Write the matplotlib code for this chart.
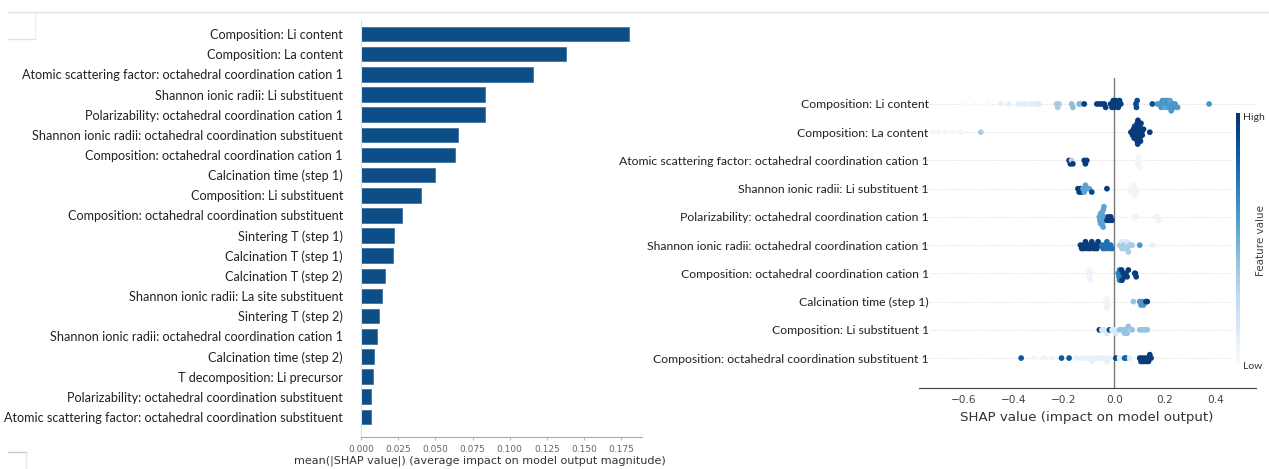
import numpy as np
import matplotlib
matplotlib.use("Agg")
import matplotlib.pyplot as plt
from matplotlib.lines import Line2D
from matplotlib.patches import Rectangle

# mean |SHAP| per feature (bar panel, top to bottom)
bar_features = [
    "Composition: Li content",
    "Composition: La content",
    "Atomic scattering factor: octahedral coordination cation 1",
    "Shannon ionic radii: Li substituent",
    "Polarizability: octahedral coordination cation 1",
    "Shannon ionic radii: octahedral coordination substituent",
    "Composition: octahedral coordination cation 1",
    "Calcination time (step 1)",
    "Composition: Li substituent",
    "Composition: octahedral coordination substituent",
    "Sintering T (step 1)",
    "Calcination T (step 1)",
    "Calcination T (step 2)",
    "Shannon ionic radii: La site substituent",
    "Sintering T (step 2)",
    "Shannon ionic radii: octahedral coordination cation 1",
    "Calcination time (step 2)",
    "T decomposition: Li precursor",
    "Polarizability: octahedral coordination substituent",
    "Atomic scattering factor: octahedral coordination substituent",
]
bar_values = [0.180, 0.138, 0.116, 0.0834, 0.0831, 0.0655, 0.0631, 0.0496,
              0.0402, 0.0276, 0.0221, 0.0213, 0.0161, 0.0139, 0.0122, 0.0108,
              0.0089, 0.0079, 0.0065, 0.0065]
bar_ticks = [0.0, 0.025, 0.05, 0.075, 0.1, 0.125, 0.15, 0.175]

# beeswarm panel: per feature, SHAP values and normalised feature values
swarm_features = [
    "Composition: Li content",
    "Composition: La content",
    "Atomic scattering factor: octahedral coordination cation 1",
    "Shannon ionic radii: Li substituent 1",
    "Polarizability: octahedral coordination cation 1",
    "Shannon ionic radii: octahedral coordination cation 1",
    "Composition: octahedral coordination cation 1",
    "Calcination time (step 1)",
    "Composition: Li substituent 1",
    "Composition: octahedral coordination substituent 1",
]

li_content_shap = [-0.60, -0.55, -0.50, -0.45, -0.42, -0.38, -0.36, -0.35, -0.33, -0.31, -0.30,
                   -0.23, -0.225, -0.22, -0.17, -0.165, -0.14, -0.135, -0.12,
                   -0.07, -0.06, -0.05, -0.04, -0.035,
                   -0.015, -0.01, -0.005, 0.0, 0.0, 0.005, 0.01, 0.015, 0.02, 0.025,
                   0.085, 0.087, 0.09, 0.15,
                   0.17, 0.18, 0.185, 0.19, 0.195, 0.2, 0.2, 0.205, 0.21, 0.21, 0.215,
                   0.22, 0.22, 0.225, 0.23, 0.235, 0.24, 0.25, 0.375]
li_content_fv = [0.0, 0.0, 0.0, 0.08, 0.08, 0.1, 0.1, 0.1, 0.12, 0.12, 0.12,
                 0.35, 0.35, 0.35, 0.42, 0.42, 0.45, 0.45, 0.95,
                 0.95, 0.95, 0.95, 0.95, 0.95,
                 0.95, 0.95, 0.95, 0.95, 0.95, 0.95, 0.95, 0.95, 0.95, 0.95,
                 0.9, 0.9, 0.9, 0.9,
                 0.6, 0.6, 0.6, 0.62, 0.6, 0.55, 0.6, 0.6, 0.55, 0.62, 0.6,
                 0.6, 0.55, 0.6, 0.6, 0.62, 0.6, 0.6, 0.6]

la_content_shap = [-0.72, -0.70, -0.67, -0.64, -0.61, -0.53,
                   0.065, 0.07, 0.072, 0.075, 0.078, 0.08, 0.082, 0.085, 0.085, 0.087,
                   0.088, 0.09, 0.09, 0.092, 0.093, 0.095, 0.095, 0.098, 0.1, 0.1,
                   0.103, 0.105, 0.108, 0.11, 0.115, 0.14]
la_content_fv = [0.03, 0.03, 0.03, 0.03, 0.03, 0.35] + [0.95] * 26

asf_cation_shap = [-0.18, -0.175, -0.17, -0.165, -0.12, -0.115, -0.11,
                   0.09, 0.092, 0.095, 0.095, 0.097, 0.1]
asf_cation_fv = [0.95, 0.95, 0.3, 0.95, 0.95, 0.95, 0.95,
                 0.04, 0.04, 0.04, 0.04, 0.04, 0.04]

sir_li_shap = [-0.145, -0.14, -0.135, -0.13, -0.125, -0.12, -0.115, -0.11, -0.1, -0.09, -0.03,
               0.06, 0.065, 0.07, 0.072, 0.075, 0.08, 0.085, 0.09]
sir_li_fv = [0.95, 0.95, 0.95, 0.95, 0.55, 0.55, 0.55, 0.55, 0.55, 0.9, 0.95,
             0.04, 0.04, 0.04, 0.04, 0.04, 0.04, 0.04, 0.04]

pol_cation_shap = [-0.06, -0.058, -0.055, -0.055, -0.052, -0.05, -0.05, -0.048, -0.045,
                   -0.045, -0.042, -0.04, -0.03, -0.025, -0.02, -0.015, -0.01,
                   0.08, 0.085, 0.165, 0.17, 0.175]
pol_cation_fv = [0.55] * 12 + [0.95] * 5 + [0.06] * 5

sir_cation_shap = [-0.135, -0.13, -0.125, -0.12, -0.115, -0.11, -0.105, -0.1, -0.095, -0.09,
                   -0.085, -0.08, -0.075, -0.07, -0.065, -0.06,
                   -0.05, -0.045, -0.04, -0.035, -0.03, -0.025, -0.02, -0.015, -0.01,
                   0.02, 0.025, 0.03, 0.03, 0.035, 0.04, 0.045, 0.05, 0.05, 0.055, 0.06, 0.07,
                   0.1, 0.15]
sir_cation_fv = [0.95] * 16 + [0.75] * 9 + [0.35, 0.35, 0.35, 0.15, 0.35, 0.35, 0.35,
                                            0.35, 0.15, 0.35, 0.35, 0.35, 0.6, 0.08]

comp_cation_shap = [-0.102, -0.1, -0.1, -0.098, -0.095,
                    0.015, 0.018, 0.02, 0.02, 0.022, 0.025,
                    0.028, 0.03, 0.035, 0.04, 0.045, 0.05, 0.055, 0.08, 0.083, 0.086]
comp_cation_fv = [0.05] * 5 + [0.7] * 6 + [0.95] * 10

calc_time_shap = [-0.035, -0.032, -0.03, -0.03, -0.028, -0.025,
                  0.075, 0.1, 0.105, 0.11, 0.115, 0.125, 0.13]
calc_time_fv = [0.05] * 6 + [0.4, 0.6, 0.6, 0.6, 0.6, 0.95, 0.95]

comp_li_sub_shap = [-0.06, -0.05, -0.04, -0.03, -0.02, -0.01, 0.0, 0.005,
                    0.02, 0.03, 0.035, 0.04, 0.045, 0.05, 0.055, 0.07,
                    0.1, 0.11, 0.12, 0.13]
comp_li_sub_fv = [0.95, 0.15, 0.15, 0.15, 0.9, 0.15, 0.15, 0.15,
                  0.4, 0.4, 0.4, 0.4, 0.4, 0.4, 0.4, 0.4,
                  0.4, 0.4, 0.4, 0.4]

comp_oct_sub_shap = [-0.37, -0.32, -0.28, -0.25, -0.21, -0.18,
                     -0.15, -0.13, -0.11, -0.1, -0.09, -0.08, -0.07, -0.06, -0.05, -0.04,
                     -0.03, -0.02, 0.005, 0.02, 0.04, 0.045, 0.06,
                     0.1, 0.105, 0.11, 0.115, 0.12, 0.125, 0.13, 0.135, 0.14, 0.145]
comp_oct_sub_fv = [0.85, 0.05, 0.05, 0.05, 0.85, 0.85] + [0.08] * 12 + \
                  [0.9, 0.1, 0.8, 0.8, 0.1] + [0.95] * 10

swarm_shap = [li_content_shap, la_content_shap, asf_cation_shap, sir_li_shap, pol_cation_shap,
              sir_cation_shap, comp_cation_shap, calc_time_shap, comp_li_sub_shap,
              comp_oct_sub_shap]
swarm_fv = [li_content_fv, la_content_fv, asf_cation_fv, sir_li_fv, pol_cation_fv,
            sir_cation_fv, comp_cation_fv, calc_time_fv, comp_li_sub_fv, comp_oct_sub_fv]
swarm_ticks = [-0.6, -0.4, -0.2, 0.0, 0.2, 0.4]

W, H = 1269, 469
label_font = ["Lato", "DejaVu Sans"]


def px_box(x0, y0, x1, y1):
    """Pixel box (top-left origin) to figure fraction rect."""
    return [x0 / W, 1 - y1 / H, (x1 - x0) / W, (y1 - y0) / H]


def swarm_offsets(xs, lo, hi, nbins=110):
    """Stack points that share an x bin alternately above and below the row."""
    xs = np.asarray(xs, dtype=float)
    order = np.argsort(xs, kind="stable")
    bins = np.round((xs[order] - lo) / (hi - lo) * nbins)
    ys = np.zeros(len(xs))
    layer, last = 0, None
    for k, idx in enumerate(order):
        if bins[k] != last:
            layer = 0
        ys[idx] = np.ceil(layer / 2) * (-1) ** layer
        layer += 1
        last = bins[k]
    top = np.abs(ys).max()
    step = 0.12 if top == 0 else min(0.12, 0.42 / top)
    return ys * step


fig = plt.figure(figsize=(W / 100, H / 100), dpi=100)

# ---- bar panel ----
ax = fig.add_axes(px_box(361, 20, 642, 437))
n = len(bar_values)
ypos = np.arange(n)[::-1]
ax.barh(ypos, bar_values, height=0.72, color="#0d4e86", edgecolor="#2f6a9a", linewidth=0.5)
ax.set_xlim(0, 0.189)
ax.set_ylim(-1.0, n - 0.3)
ax.set_yticks(ypos, bar_features, fontsize=9.1, family=label_font, color="#222222")
ax.tick_params(axis="y", length=0, pad=13)
ax.set_xticks(bar_ticks, [f"{t:.3f}" for t in bar_ticks])
ax.tick_params(axis="x", labelsize=6.5, labelcolor="#666666", color="#bbbbbb", length=2, pad=4)
for s in ("top", "right"):
    ax.spines[s].set_visible(False)
ax.spines["left"].set_color("#dddddd")
ax.spines["bottom"].set_color("#aaaaaa")
ax.set_xlabel("mean(|SHAP value|) (average impact on model output magnitude)",
              fontsize=8, color="#333333")
ax.xaxis.set_label_coords((480 - 361) / 281, -(456 - 437) / 417)

# ---- beeswarm panel ----
lo, hi = -0.775, 0.561
bx = fig.add_axes(px_box(919, 78, 1256, 388))
m = len(swarm_features)
rows = np.arange(m)[::-1]
cmap = plt.get_cmap("Blues")
for r, xs, fv in zip(rows, swarm_shap, swarm_fv):
    bx.axhline(r, color="#cccccc", lw=0.6, ls=(0, (1, 2)), zorder=0)
    ys = r + swarm_offsets(xs, lo, hi)
    bx.scatter(xs, ys, c=fv, cmap=cmap, vmin=0, vmax=1, s=17, linewidths=0, zorder=3)
bx.axvline(0, color="#777777", lw=1, zorder=1)
bx.set_xlim(lo, hi)
bx.set_ylim(-1.06, m - 1 + 0.92)
bx.set_yticks(rows, swarm_features, fontsize=8.8, family=label_font, color="#222222")
bx.tick_params(axis="y", length=0, pad=-7)
bx.set_xticks(swarm_ticks, [f"{t:.1f}".replace("-", "\u2212") for t in swarm_ticks])
bx.tick_params(axis="x", labelsize=7.6, labelcolor="#444444", length=0, pad=5)
for s in ("top", "right", "left"):
    bx.spines[s].set_visible(False)
bx.spines["bottom"].set_color("#444444")
bx.set_xlabel("SHAP value (impact on model output)", fontsize=9.6, color="#333333")
bx.xaxis.set_label_coords((1087 - 919) / 337, -(411 - 388) / 310)

# colour bar for feature value
fig.add_artist(Rectangle((1231 / W, 1 - 372 / H), 26 / W, 260 / H, transform=fig.transFigure,
                         facecolor="white", edgecolor="none", zorder=1))
cax = fig.add_axes(px_box(1236, 113, 1240, 363))
cax.set_zorder(2)
grad = np.linspace(1, 0, 256).reshape(-1, 1)
cax.imshow(grad, cmap=cmap, vmin=0, vmax=1, aspect="auto")
cax.set_axis_off()
fig.text(1243 / W, 1 - 117 / H, "High", fontsize=7.5, family=label_font, color="#333333",
         ha="left", va="center")
fig.text(1243 / W, 1 - 366 / H, "Low", fontsize=7.5, family=label_font, color="#333333",
         ha="left", va="center")
fig.text(1261 / W, 1 - 240 / H, "Feature value", fontsize=7.5, color="#444444",
         rotation=90, ha="center", va="center")

# thin frame lines around the figure
grey = "#e3e3e3"
fig.add_artist(Line2D([8 / W, 1], [1 - 12 / H] * 2, color=grey, lw=1))
fig.add_artist(Line2D([35 / W] * 2, [1 - 12 / H, 1 - 39 / H], color="#f0f0f0", lw=1))
fig.add_artist(Line2D([8 / W, 35 / W], [1 - 39 / H] * 2, color=grey, lw=1))
fig.add_artist(Line2D([8 / W, 26 / W], [1 - 452 / H] * 2, color="#c8c8c8", lw=1))
fig.add_artist(Line2D([26 / W] * 2, [1 - 452 / H, 0], color="#e6e6e6", lw=1))

fig.savefig("out.png", dpi=100, facecolor="white")
